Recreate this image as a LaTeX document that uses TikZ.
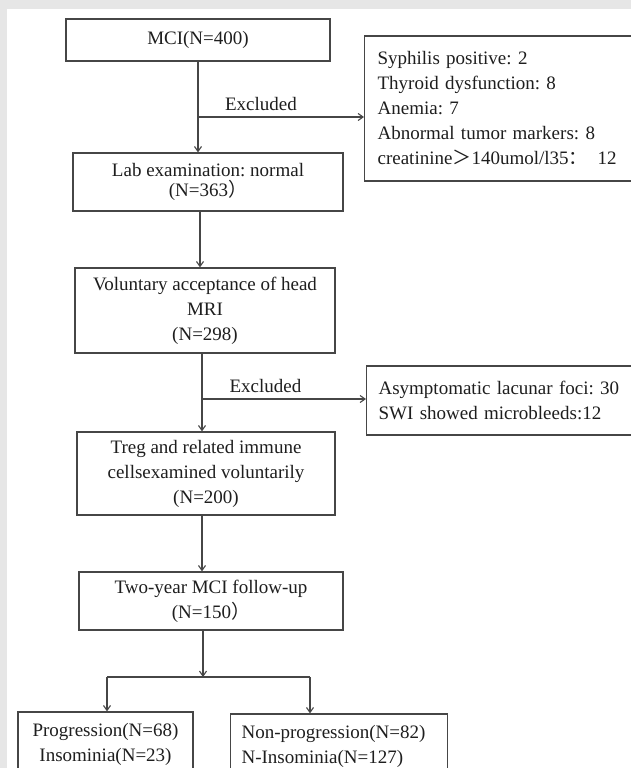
\documentclass[tikz,border=0pt]{standalone}
\usepackage{fontspec}
\setmainfont{Liberation Serif}
\newfontfamily\cjk{Noto Sans CJK SC}
\usetikzlibrary{arrows.meta}
\definecolor{bordergrey}{RGB}{230,230,230}
\definecolor{linegrey}{RGB}{70,70,70}
\definecolor{textgrey}{RGB}{30,30,30}
\frenchspacing

\begin{document}
\begin{tikzpicture}[x=1pt, y=-1pt,
    box/.style={draw=linegrey, line width=1.2pt, inner sep=0pt, align=center, text=textgrey, font=\fontsize{19}{25}\selectfont},
    listbox/.style={box, align=left, inner xsep=13pt, anchor=west},
    flow/.style={draw=linegrey, line width=1.1pt},
    arr/.style={flow, -{Straight Barb[length=5pt, width=7pt]}},
    note/.style={text=textgrey, font=\fontsize{19}{25}\selectfont}]
  \useasboundingbox (0,0) rectangle (631,768);
  \fill[bordergrey] (0,0) rectangle (631,768);
  \fill[white] (7,9) rectangle (631,768);

  \node[box, minimum width=264pt, minimum height=42pt] (mci) at (198,40) {MCI(N=400)};
  \node[listbox, text width=260pt, minimum height=145pt] (ex1) at (364,108.5) {Syphilis positive: 2\\Thyroid dysfunction: 8\\Anemia: 7\\Abnormal tumor markers: 8\\creatinine{\cjk ＞}140umol/l35{\cjk ：}\hspace{10pt}12};
  \node[box, minimum width=270pt, minimum height=58pt] (lab) at (208,182) {Lab examination: normal\\[-5pt](N=363{\cjk ）}};
  \node[box, minimum width=260pt, minimum height=85pt] (vol) at (205,310.5) {Voluntary acceptance of head\\MRI\\(N=298)};
  \node[listbox, text width=260pt, inner xsep=12pt, minimum height=69pt] (ex2) at (366,400.5) {Asymptomatic lacunar foci: 30\\SWI showed microbleeds:12};
  \node[box, minimum width=258pt, minimum height=83pt] (treg) at (206,473.5) {Treg and related immune\\cellsexamined voluntarily\\(N=200)};
  \node[box, minimum width=264pt, minimum height=58pt] (fup) at (211,601) {Two-year MCI follow-up\\(N=150{\cjk ）}};
  \node[box, minimum width=175pt, minimum height=65pt] (prog) at (105.5,744.5) {Progression(N=68)\\Insominia(N=23)};
  \node[listbox, text width=195pt, inner xsep=11pt, minimum height=65pt] (nprog) at (230,746.5) {Non-progression(N=82)\\N-Insominia(N=127)};

  \coordinate (cut1) at (198,117);
  \coordinate (cut2) at (202,399);
  \coordinate (split) at (203,677);
  \coordinate (splitl) at (107,677);
  \coordinate (splitr) at (310,677);

  \draw[arr] (mci.south) -- (mci.south |- lab.north);
  \draw[arr] (cut1) -- (cut1 -| ex1.west);
  \node[note] (exc1) at (261,104) {Excluded};
  \draw[arr] ([xshift=-8pt]lab.south) -- ([xshift=-8pt]lab.south |- vol.north);
  \draw[arr] (cut2 |- vol.south) -- (cut2 |- treg.north);
  \draw[arr] (cut2) -- (cut2 -| ex2.west);
  \node[note] (exc2) at (265.5,386) {Excluded};
  \draw[arr] (cut2 |- treg.south) -- (cut2 |- fup.north);
  \draw[arr] (split |- fup.south) -- (split);
  \draw[flow] (splitl) -- (splitr);
  \draw[arr] (splitl) -- (splitl |- prog.north);
  \draw[arr] (splitr) -- (splitr |- nprog.north);
\end{tikzpicture}
\end{document}
